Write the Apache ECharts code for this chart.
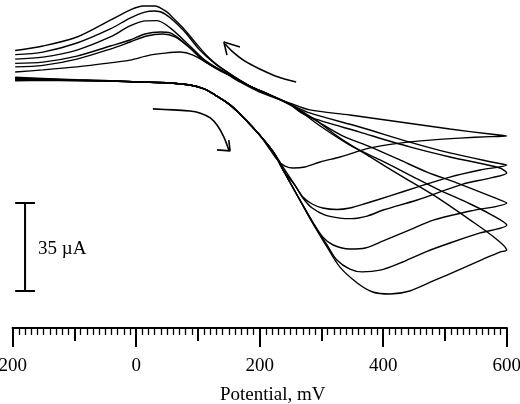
<!DOCTYPE html>
<html><head><meta charset="utf-8">
<script src="https://cdn.jsdelivr.net/npm/echarts@6/dist/echarts.min.js"></script>
<style>html,body{margin:0;padding:0;background:#fff}#c{width:520px;height:404px}</style>
</head><body><div id="c"></div>
<script>
// Potential in mV, current in µA
const tickValues = [-200, 0, 200, 400, 600];
const tickLabels = ['200', '0', '200', '400', '600'];

const cycleA = [
 [-196,1.3],[-151,0.8],[-96,0.3],[-42,-0.1],[6,-0.6],[55,-1.0],[87,-1.8],[111,-3.4],[128,-5.8],[152,-9.7],[176,-15.3],[200,-21.7],
 [222,-28.4],[238,-35.6],[265,-47.5],[286,-56.7],[309,-66.2],[330,-74.2],[358,-80.5],[383,-84.1],[411,-84.9],[443,-83.7],[481,-79.7],[529,-74.6],[562,-71.0],[589,-68.2],[600,-67.4],
 [581,-62.6],[541,-55.5],[481,-45.5],[427,-37.6],[379,-30.4],[330,-22.9],[290,-15.7],[265,-12.5],[249,-9.4],[217,-5.8],[184,-2.2],[157,1.8],[131,6.2],[115,9.7],[95,15.3],[76,20.9],[60,24.8],[50,27.2],[30,29.6],[11,29.6],[-10,28.0],[-42,24.0],[-96,17.3],[-151,13.7],[-196,11.9]
];
const cycleB = [
 [-196,1.0],[-151,0.6],[-96,0.2],[-42,-0.1],[6,-0.6],[55,-1.0],[87,-1.8],[111,-3.4],[128,-5.8],[152,-9.7],[176,-15.3],[200,-21.7],
 [222,-28.4],[238,-35.6],[265,-47.5],[286,-56.7],[309,-65.4],[325,-71.4],[346,-75.0],[366,-76.1],[395,-75.4],[427,-72.6],[468,-68.2],[508,-64.6],[557,-60.6],[600,-57.5],
 [573,-53.1],[541,-49.1],[487,-43.1],[443,-37.6],[395,-31.6],[346,-25.7],[298,-18.1],[265,-12.1],[249,-9.4],[217,-5.8],[184,-2.2],[157,1.8],[128,6.6],[103,12.1],[76,20.1],[47,26.4],[30,27.6],[14,27.2],[-10,24.8],[-42,20.5],[-96,14.9],[-151,11.3],[-196,10.3]
];
const cycleC = [
 [-196,0.8],[-151,0.5],[-96,0.1],[-42,-0.2],[6,-0.6],[55,-1.0],[87,-1.8],[111,-3.4],[128,-5.8],[152,-9.7],[176,-15.3],[200,-21.7],
 [222,-28.4],[238,-35.6],[265,-47.5],[286,-56.3],[302,-62.2],[319,-65.4],[346,-67.0],[371,-66.6],[400,-63.8],[443,-59.4],[481,-55.5],[541,-51.9],[600,-48.7],
 [581,-46.7],[520,-40.8],[471,-36.4],[427,-31.6],[379,-26.4],[335,-22.1],[298,-16.9],[265,-11.7],[249,-9.4],[217,-5.8],[184,-2.2],[157,1.4],[136,4.2],[111,8.1],[87,13.7],[55,20.9],[34,23.8],[14,23.7],[-10,21.7],[-42,17.3],[-96,12.1],[-151,9.3],[-196,8.5]
];
const cycleD = [
 [-196,0.4],[-151,0.2],[-96,0.0],[-42,-0.2],[6,-0.6],[55,-1.0],[87,-1.8],[111,-3.4],[128,-5.8],[152,-9.7],[176,-15.3],[200,-21.7],
 [222,-28.4],[238,-35.6],[257,-41.6],[270,-46.7],[285,-50.7],[306,-53.5],[330,-54.7],[349,-54.9],[374,-53.9],[400,-51.5],[455,-47.5],[529,-41.2],[573,-38.8],[600,-36.8],
 [589,-34.8],[508,-30.4],[443,-26.4],[362,-20.5],[281,-14.5],[249,-9.7],[217,-5.8],[184,-2.2],[157,1.4],[136,4.2],[108,8.1],[82,14.1],[55,18.9],[39,19.3],[14,18.5],[-10,16.1],[-42,13.7],[-96,9.7],[-151,7.3],[-196,6.8]
];
const cycleE = [
 [-196,0.2],[-151,0.1],[-96,0.0],[-42,-0.2],[6,-0.6],[55,-1.0],[87,-1.8],[111,-3.4],[128,-5.8],[152,-9.7],[176,-15.3],[200,-21.7],
 [222,-28.4],[241,-35.6],[257,-41.6],[270,-46.3],[285,-49.1],[302,-50.7],[325,-51.3],[346,-50.7],[374,-48.7],[411,-45.9],[455,-42.4],[508,-38.4],[557,-35.6],[600,-33.6],
 [584,-32.8],[508,-28.8],[443,-24.5],[362,-18.5],[281,-12.9],[249,-9.4],[217,-5.8],[184,-2.2],[157,1.4],[136,3.8],[111,7.7],[87,12.9],[63,17.3],[43,18.5],[17,17.7],[-10,15.3],[-42,12.5],[-96,8.5],[-151,6.0],[-196,5.4]
];
const cycleF = [
 [-196,-0.1],[-151,0.0],[-96,0.0],[-42,-0.2],[6,-0.6],[55,-1.0],[87,-1.8],[111,-3.4],[128,-5.8],[152,-9.7],[176,-15.3],[200,-21.7],
 [217,-27.6],[230,-32.0],[241,-34.0],[254,-34.8],[273,-34.4],[298,-32.4],[330,-30.4],[379,-26.8],[427,-24.9],[476,-23.7],[524,-22.9],[573,-22.3],[600,-22.1],
 [573,-21.3],[508,-19.3],[427,-16.5],[346,-13.7],[281,-11.7],[249,-9.0],[200,-4.6],[168,-0.6],[144,3.0],[120,6.2],[92,10.1],[71,11.3],[47,10.9],[22,10.1],[-10,8.1],[-42,7.0],[-96,5.4],[-151,4.2],[-196,3.4]
];

// scan-direction arrows and the 35 µA scale bar (data units)
const arrowUpperShaft = [[259,-0.6],[230,1.4],[200,4.6],[176,7.7],[155,11.7],[144,14.5]];
const arrowUpperHead = [[168,13.3],[142,15.3],[147,10.1]];
const arrowLowerShaft = [[27,-11.3],[60,-11.7],[87,-12.1],[103,-12.9],[120,-14.9],[132,-18.1],[142,-22.5],[150,-27.6]];
const arrowLowerHead = [[131,-27.6],[152,-28.0],[150,-23.7]];
const scaleBar = [[-196,-48.7],[-164,-48.7],[-180,-48.7],[-180,-83.7],[-196,-83.7],[-164,-83.7]];
const scaleBarLabel = '35 µA';

const FONT = '"Liberation Serif", "Times New Roman", serif';
const chart = echarts.init(document.getElementById('c'), null, {renderer: 'canvas'});

function curve(data, w, smooth) {
  return {type: 'line', data: data, xAxisIndex: 0, symbol: 'none', smooth: smooth,
    lineStyle: {color: '#000', width: w}, silent: true, animation: false, clip: false};
}

chart.setOption({
  animation: false,
  grid: {left: 12.7, width: 494, top: 0, height: 328, containLabel: false, outerBoundsMode: 'none'},
  xAxis: [
    {type: 'value', min: -200, max: 600, interval: 100, position: 'bottom',
     axisLine: {show: true, onZero: false, lineStyle: {color: '#000', width: 2}},
     axisTick: {show: true, inside: false, length: 13, lineStyle: {color: '#000', width: 2}},
     minorTick: {show: true, splitNumber: 10, length: 7, lineStyle: {color: '#000', width: 1.3}},
     axisLabel: {show: false}, splitLine: {show: false}, minorSplitLine: {show: false}},
    {type: 'value', min: -200, max: 600, interval: 200, position: 'bottom',
     axisLine: {show: true, onZero: false, lineStyle: {color: '#000', width: 2}},
     axisTick: {show: true, length: 19, lineStyle: {color: '#000', width: 2}},
     axisLabel: {show: true, margin: 29, color: '#000', fontFamily: FONT, fontSize: 19,
       formatter: v => { const i = tickValues.indexOf(v); return i >= 0 ? tickLabels[i] : ''; }},
     splitLine: {show: false},
     name: 'Potential, mV', nameLocation: 'middle', nameGap: 58,
     nameTextStyle: {color: '#000', fontFamily: FONT, fontSize: 19, padding: [0, 0, 0, 26]}}
  ],
  yAxis: {type: 'value', min: -98.4, max: 32, show: false, splitLine: {show: false}},
  graphic: [
    {type: 'text', left: 38, top: 240, style: {text: scaleBarLabel, font: '19px ' + FONT, fill: '#000'}}
  ],
  series: [
    curve(cycleA, 1.4, 0.3), curve(cycleB, 1.4, 0.3), curve(cycleC, 1.4, 0.3),
    curve(cycleD, 1.4, 0.3), curve(cycleE, 1.4, 0.3), curve(cycleF, 1.4, 0.3),
    curve(arrowUpperShaft, 1.6, 0.3), curve(arrowUpperHead, 1.6, false),
    curve(arrowLowerShaft, 1.6, 0.3), curve(arrowLowerHead, 1.6, false),
    curve(scaleBar, 2, false)
  ]
});
</script></body></html>
